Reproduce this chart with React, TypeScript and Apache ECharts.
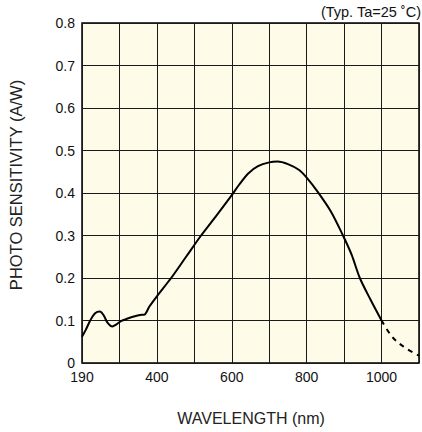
import React, { useEffect, useRef } from "react";
import * as echarts from "echarts";

const wavelengthSolid = [200, 210, 222, 235, 248, 258, 268, 281, 292, 305, 320, 341, 355, 367, 380, 400, 438, 478, 518, 560, 600, 620, 644, 670, 700, 722, 750, 780, 800, 830, 865, 897, 920, 942, 970, 1000];
const sensitivitySolid = [0.062, 0.078, 0.1, 0.117, 0.121, 0.112, 0.095, 0.086, 0.091, 0.099, 0.104, 0.11, 0.113, 0.114, 0.133, 0.157, 0.2, 0.25, 0.3, 0.348, 0.395, 0.42, 0.446, 0.463, 0.472, 0.474, 0.468, 0.454, 0.436, 0.402, 0.356, 0.3, 0.255, 0.2, 0.15, 0.1];
const wavelengthDashed = [1000, 1030, 1063, 1100];
const sensitivityDashed = [0.1, 0.06, 0.036, 0.017];
const xLabels: Record<number, string> = { 200: "190", 400: "400", 600: "600", 800: "800", 1000: "1000" };
const titleText = "(Typ. Ta=25 ˚C)";
const yName = "PHOTO SENSITIVITY (A/W)";
const xName = "WAVELENGTH (nm)";

export default function App() {
  const ref = useRef<HTMLDivElement>(null);
  useEffect(() => {
    if (!ref.current) return;
    const chart = echarts.init(ref.current, null, { renderer: "svg" });
    const font = "Liberation Sans, Arial, sans-serif";
    chart.setOption({
      animation: false,
      textStyle: { fontFamily: font },
      grid: {
        left: 82,
        top: 23,
        right: 2,
        bottom: 69,
        show: true,
        backgroundColor: "#FEFBE8",
        borderColor: "#000",
        borderWidth: 1.5,
      },
      xAxis: {
        type: "value",
        min: 200,
        max: 1100,
        interval: 100,
        axisLine: { show: false },
        axisTick: { show: false },
        splitLine: { show: true, lineStyle: { color: "#1a1a1a", width: 1 } },
        axisLabel: {
          color: "#111",
          fontSize: 14,
          fontFamily: font,
          margin: 7,
          showMaxLabel: true,
          formatter: (v: number) => xLabels[v] ?? "",
        },
      },
      yAxis: {
        type: "value",
        min: 0,
        max: 0.8,
        interval: 0.1,
        axisLine: { show: false },
        axisTick: { show: false },
        splitLine: { show: true, lineStyle: { color: "#1a1a1a", width: 1 } },
        axisLabel: {
          color: "#111",
          fontSize: 14,
          fontFamily: font,
          margin: 7,
          formatter: (v: number) => (v === 0 ? "0" : v.toFixed(1)),
        },
      },
      graphic: [
        {
          type: "text",
          x: 421,
          y: 12,
          style: { text: titleText, fill: "#111", font: `14.5px ${font}`, textAlign: "right", textVerticalAlign: "middle" },
        },
        {
          type: "text",
          x: 16,
          y: 185,
          rotation: Math.PI / 2,
          style: { text: yName, fill: "#222", font: `16.5px ${font}`, textAlign: "center", textVerticalAlign: "middle" },
        },
        {
          type: "text",
          x: 251,
          y: 418,
          style: { text: xName, fill: "#222", font: `16px ${font}`, textAlign: "center", textVerticalAlign: "middle" },
        },
      ],
      series: [
        {
          type: "line",
          smooth: 0.3,
          showSymbol: false,
          data: wavelengthSolid.map((w, i) => [w, sensitivitySolid[i]]),
          lineStyle: { color: "#000", width: 2 },
        },
        {
          type: "line",
          smooth: 0.4,
          showSymbol: false,
          data: wavelengthDashed.map((w, i) => [w, sensitivityDashed[i]]),
          lineStyle: { color: "#000", width: 2, type: [5, 5] },
        },
      ],
    });
    return () => chart.dispose();
  }, []);
  return <div ref={ref} style={{ position: "absolute", left: 0, top: 0, width: 422, height: 432 }} />;
}
